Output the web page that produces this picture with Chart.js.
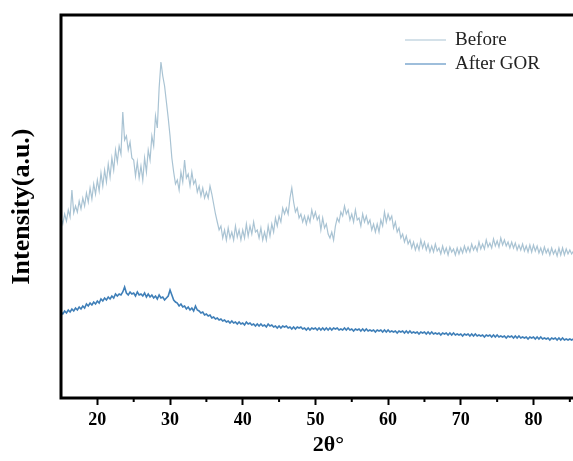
<!DOCTYPE html>
<html lang="en">
<head>
  <meta charset="UTF-8" />
  <title>XRD pattern</title>
  <script src="https://cdn.jsdelivr.net/npm/chart.js"></script>
  <style>
    html, body { margin: 0; padding: 0; background: #fff; overflow: hidden; }
    #wrap { width: 573px; height: 461px; overflow: hidden; }
  </style>
</head>
<body>
  <div id="wrap"><canvas id="xrd" width="596" height="461"></canvas></div>

  <script>
    // sampling grid (2theta, degrees)
    const xStart = 15;
    const xStep = 0.25;

    // intensity, arbitrary units, one row per degree
    const before = [
      180,174,184,177, 188,181,208,185, 192,186,197,189, 200,192,205,196,
      210,199,214,204, 218,207,225,212, 228,216,234,221, 240,228,248,236,
      252,244,286,258, 262,248,256,240, 238,222,236,220, 232,218,240,226,
      248,238,262,252, 282,270,310,336, 322,312,296,280, 262,240,226,214,
      218,208,226,216, 238,220,224,212, 226,214,218,206, 212,202,210,200,
      206,200,212,204, 194,184,176,168, 172,160,168,158, 170,160,166,158,
      172,161,168,158, 168,160,174,162, 172,164,176,166, 168,160,170,158,
      166,158,172,162, 174,166,180,172, 182,176,190,184, 190,184,200,210,
      196,186,190,180, 184,176,182,174, 182,176,188,180, 186,178,182,168,
      180,170,174,164, 160,166,158,172, 180,176,186,182, 192,184,188,178,
      184,176,188,178, 180,172,184,176, 182,174,178,168, 174,166,174,166,
      178,172,186,176, 184,178,182,170, 176,166,170,160, 164,156,162,154,
      158,150,156,148, 154,148,158,150, 156,148,154,146, 152,146,154,147,
      150,144,152,145, 150,143,151,146, 149,143,150,144, 150,145,152,146,
      151,146,154,148, 152,147,156,149, 154,149,158,151, 155,150,159,152,
      157,151,160,153, 158,152,156,150, 156,150,155,148, 153,148,154,147,
      152,146,153,146, 153,147,152,145, 150,144,151,145, 149,143,150,144,
      148,142,150,143, 150,143,149,144, 148,144,147
    ];

    const afterGor = [
      86,84,87,85, 88,86,89,87, 90,88,91,89, 92,90,94,92,
      95,93,96,94, 97,95,99,97, 100,98,101,99, 102,100,104,102,
      104,103,106,111, 105,103,106,104, 105,102,106,103, 104,102,105,101,
      104,101,103,100, 102,99,103,100, 101,98,100,102, 108,103,98,96,
      95,92,94,91, 92,89,91,88, 90,87,92,88, 87,85,86,83,
      84,82,83,80, 81,79,80,78, 79,77,78,76, 77,75,77,75,
      76,74,76,74, 75,73,76,74, 75,73,74,72, 74,72,74,72,
      73,71,74,72, 73,71,72,70, 72,70,72,71, 72,70,71,69,
      71,69,71,70, 71,69,70,68, 70,68,70,69, 70,68,70,68,
      70,68,70,68, 70,68,70,69, 70,68,69,68, 70,68,70,68,
      69,67,69,68, 69,67,69,67, 69,67,68,67, 68,66,68,67,
      68,66,68,66, 68,66,67,66, 67,65,67,66, 67,65,67,65,
      67,65,66,65, 66,64,66,65, 66,64,66,64, 66,64,65,64,
      65,63,65,64, 65,63,65,63, 65,63,64,63, 64,62,64,63,
      64,62,64,62, 64,62,63,62, 63,61,63,62, 63,61,63,61,
      63,61,62,61, 62,60,62,61, 62,60,62,60, 62,60,61,60,
      61,59,61,60, 61,59,61,59, 61,59,60,59, 60,58,60,59,
      60,58,60,58, 60,58,59,58, 59,58,59
    ];

    const minorTicks = [25, 35, 45, 55, 65, 75, 85];

    const toPoints = (arr) => arr.map((v, i) => ({ x: xStart + i * xStep, y: v }));

    // frame, minor ticks and legend
    const decorations = {
      id: 'decorations',
      afterDraw(chart) {
        const { ctx, chartArea: a, scales: { x } } = chart;
        ctx.save();
        ctx.strokeStyle = '#000';
        ctx.lineWidth = 3;
        ctx.strokeRect(a.left, a.top, a.right - a.left, a.bottom - a.top);

        ctx.lineWidth = 2;
        minorTicks.forEach(v => {
          const px = x.getPixelForValue(v);
          ctx.beginPath();
          ctx.moveTo(px, a.bottom);
          ctx.lineTo(px, a.bottom + 4);
          ctx.stroke();
        });

        ctx.font = '19px "Liberation Serif", "Times New Roman", serif';
        ctx.textBaseline = 'middle';
        ctx.fillStyle = '#222';
        chart.data.datasets.forEach((ds, i) => {
          const y = 40 + i * 24;
          ctx.strokeStyle = ds.borderColor;
          ctx.lineWidth = 1.2;
          ctx.beginPath();
          ctx.moveTo(405, y);
          ctx.lineTo(446, y);
          ctx.stroke();
          ctx.fillText(ds.label, 455, y);
        });
        ctx.restore();
      }
    };

    new Chart(document.getElementById('xrd'), {
      type: 'line',
      data: {
        datasets: [
          { label: 'Before', data: toPoints(before), borderColor: '#a9c3d3', borderWidth: 1.2, pointRadius: 0 },
          { label: 'After GOR', data: toPoints(afterGor), borderColor: '#3f7fb8', borderWidth: 1.6, pointRadius: 0 }
        ]
      },
      options: {
        responsive: false,
        animation: false,
        layout: { padding: { top: 15, right: 0, left: 0, bottom: 0 } },
        plugins: { legend: { display: false }, tooltip: { enabled: false } },
        scales: {
          x: {
            type: 'linear',
            min: 15,
            max: 88.6,
            border: { display: false },
            grid: { drawOnChartArea: false, drawTicks: true, tickLength: 7, tickWidth: 2, tickColor: '#000' },
            ticks: {
              stepSize: 10,
              includeBounds: false,
              padding: 5,
              color: '#000',
              font: { family: '"Liberation Serif", "Times New Roman", serif', size: 18, weight: 'bold' }
            },
            title: {
              display: true,
              text: '2θ°',
              color: '#000',
              padding: { top: 0, bottom: 2 },
              font: { family: '"Liberation Serif", "Times New Roman", serif', size: 22, weight: 'bold' }
            },
            afterFit(scale) { scale.height = 63; }
          },
          y: {
            min: 0,
            max: 383,
            border: { display: false },
            grid: { display: false },
            ticks: { display: false },
            title: {
              display: true,
              text: 'Intensity(a.u.)',
              color: '#000',
              padding: { top: 7, bottom: 0 },
              font: { family: '"Liberation Serif", "Times New Roman", serif', size: 26, weight: 'bold' }
            },
            afterFit(scale) { scale.width = 61; }
          }
        }
      },
      plugins: [decorations]
    });
  </script>
</body>
</html>
